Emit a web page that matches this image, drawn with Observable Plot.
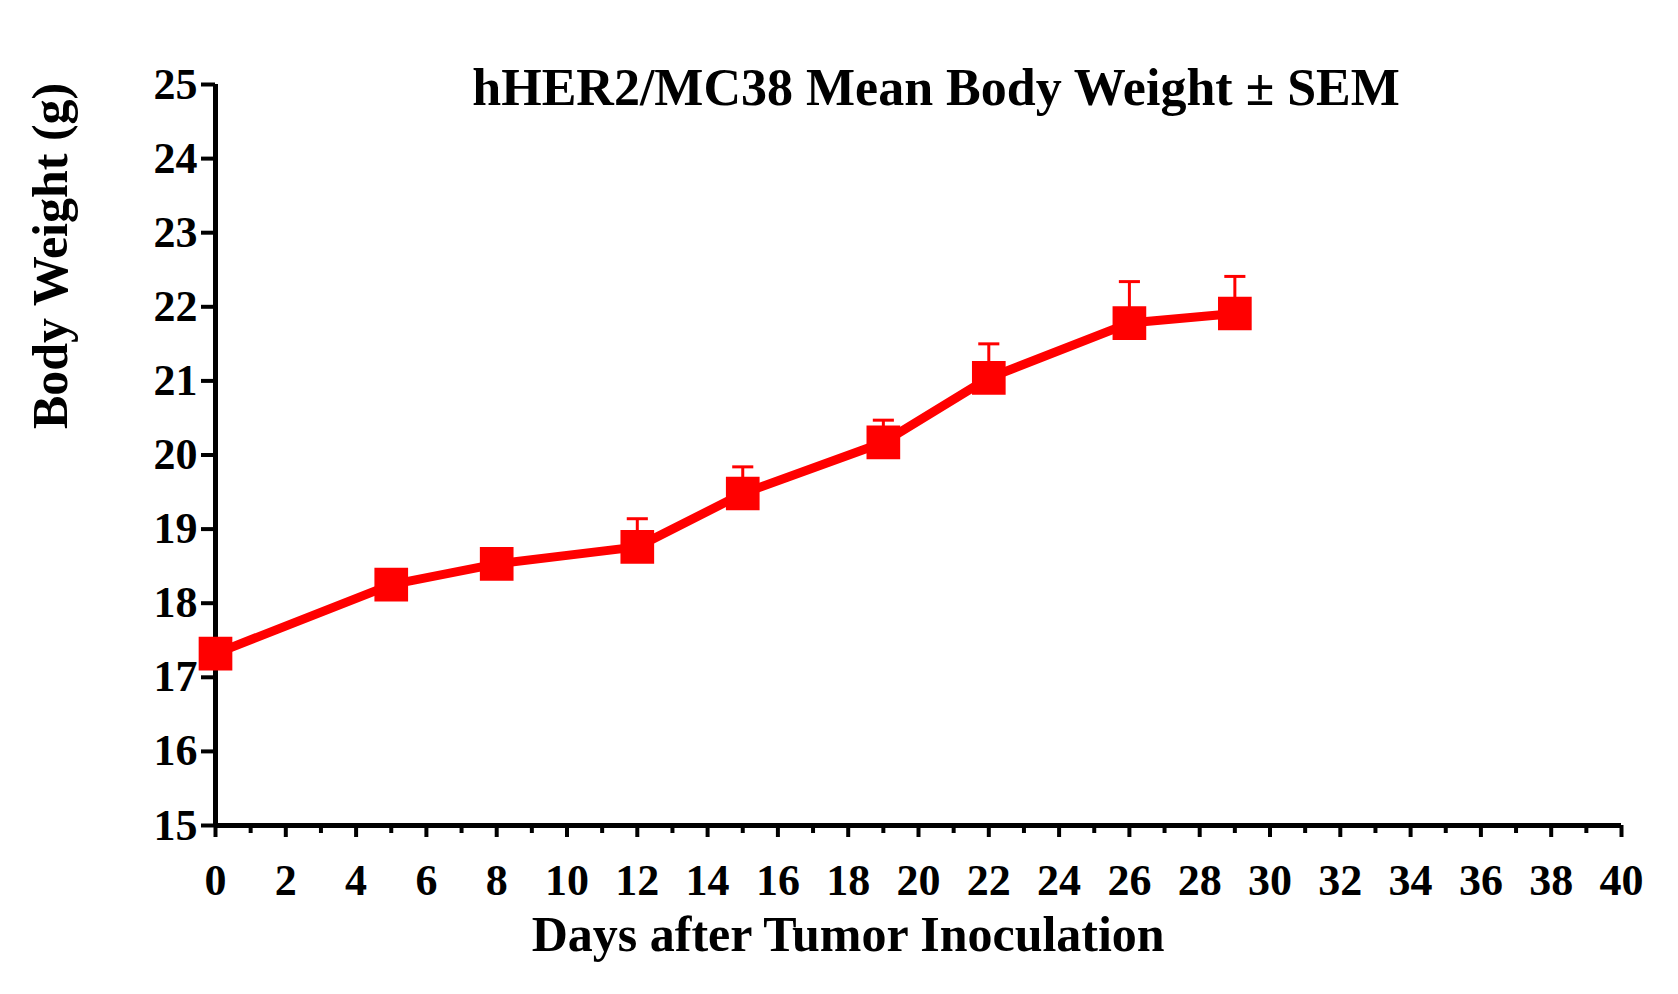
<!DOCTYPE html>
<html><head>
<script src="https://cdn.jsdelivr.net/npm/d3@7"></script>
<script src="https://cdn.jsdelivr.net/npm/@observablehq/plot@0.6"></script>
<style>body{margin:0;background:#fff}</style>
</head><body><div id="c"></div>
<script>
const days = [0, 5, 8, 12, 15, 19, 22, 26, 29];
const weights = [17.32, 18.25, 18.53, 18.76, 19.48, 20.17, 21.04, 21.78, 21.91];
const sems = [0.08, 0.1, 0.12, 0.38, 0.36, 0.3, 0.46, 0.56, 0.5];
const xTicks = d3.range(0, 41, 2);
const xMinor = d3.range(1, 40, 2);
const yTicks = d3.range(15, 26, 1);
const title = "hHER2/MC38 Mean Body Weight \u00B1 SEM";
const data = days.map((d, i) => ({day: d, w: weights[i], e: sems[i]}));
const font = "Liberation Serif";
const chart = Plot.plot({
  width: 1678, height: 994,
  marginLeft: 215, marginRight: 57, marginTop: 84, marginBottom: 169,
  style: {fontFamily: font, fontWeight: "bold", fontSize: "44px", color: "black", background: "white"},
  x: {domain: [0, 40]},
  y: {domain: [15, 25]},
  marks: [
    Plot.axisX({ticks: xTicks, tickSize: 12, strokeWidth: 4, tickPadding: 26, label: null, fontSize: 44}),
    Plot.axisX({ticks: xMinor, tickSize: 8, strokeWidth: 4, tickFormat: () => "", label: null}),
    Plot.axisY({ticks: yTicks, tickSize: 14, strokeWidth: 4, tickPadding: 4, label: null, fontSize: 44}),
    Plot.ruleY([15], {strokeWidth: 5}),
    Plot.ruleX([0], {strokeWidth: 5}),
    Plot.ruleX(data, {x: "day", y1: "w", y2: d => d.w + d.e, stroke: "red", strokeWidth: 3}),
    Plot.link(data, {x1: d => d.day - 0.3, x2: d => d.day + 0.3, y1: d => d.w + d.e, y2: d => d.w + d.e, stroke: "red", strokeWidth: 3}),
    Plot.line(data, {x: "day", y: "w", stroke: "red", strokeWidth: 9}),
    Plot.dot(data, {x: "day", y: "w", symbol: "square", r: 19, fill: "red", stroke: "none"}),
    Plot.text([title], {x: 20.5, y: 24.95, text: d => d, fontSize: 52, fontWeight: "bold", fill: "black", lineAnchor: "middle"}),
    Plot.text(["Days after Tumor Inoculation"], {x: 18, frameAnchor: "bottom", dy: 125, text: d => d, fontSize: 50, fontWeight: "bold", fill: "black"}),
    Plot.text(["Body Weight (g)"], {y: 20.35, frameAnchor: "left", dx: -165, rotate: -90, text: d => d, fontSize: 50, fontWeight: "bold", fill: "black"})
  ]
});
document.getElementById("c").append(chart);
</script>
</body></html>
